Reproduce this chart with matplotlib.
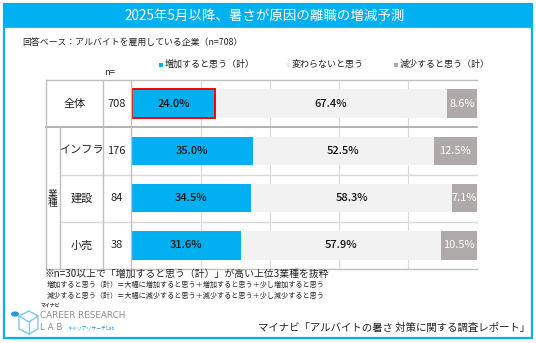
import matplotlib
matplotlib.use("Agg")
import matplotlib.pyplot as plt
from matplotlib.lines import Line2D
from matplotlib.patches import Rectangle, Circle, Polygon

plt.rcParams['font.family'] = ['Noto Sans CJK JP', 'DejaVu Sans']

categories = ['全体', 'インフラ', '建設', '小売']
n_values = [708, 176, 84, 38]
increase = [24.0, 35.0, 34.5, 31.6]
same = [67.4, 52.5, 58.3, 57.9]
decrease = [8.6, 12.5, 7.1, 10.5]
series_names = ['増加すると思う（計）', '変わらないと思う', '減少すると思う（計）']

W, H = 536, 343
BLUE = "#00B0F0"
LIGHT = "#F2F2F2"
GREY = "#AEAAAA"
LINE = "#BFBFBF"


def fx(x):
    return x / W


def fy(y):
    return 1 - y / H


fig = plt.figure(figsize=(W / 100, H / 100), dpi=100)


def hline(y, x0, x1, color=LINE, lw=1.0):
    fig.add_artist(Line2D([fx(x0), fx(x1)], [fy(y), fy(y)], color=color, lw=lw))


def vline(x, y0, y1, color=LINE, lw=1.0):
    fig.add_artist(Line2D([fx(x), fx(x)], [fy(y0), fy(y1)], color=color, lw=lw))


def text(x, y, s, **kw):
    fig.text(fx(x), fy(y), s, **kw)


# outer frame and title banner
fig.add_artist(Rectangle((fx(4), fy(338)), fx(528), (334) / H, fill=False,
                         ec=BLUE, lw=1.6))
fig.add_artist(Rectangle((fx(4), fy(27)), fx(528), 23 / H, fc=BLUE, ec=BLUE, lw=1.2))
text(265, 15.5, "2025年5月以降、暑さが原因の離職の増減予測", color="white",
     fontsize=9.7, ha="center", va="center")
text(22, 42, "回答ベース：アルバイトを雇用している企業（n=708）", fontsize=6.4,
     ha="left", va="center", color="#222222")

# legend
for lx, col, name in [(162, BLUE, series_names[0]), (289, LIGHT, series_names[1]),
                      (397, GREY, series_names[2])]:
    fig.add_artist(Rectangle((fx(lx - 3), fy(66.5)), 4 / W, 4 / H, fc=col, ec="none"))
    text(lx + 3, 64.5, name, fontsize=6.5, ha="left", va="center", color="#222222")
text(110, 72.5, "n=", fontsize=6.8, ha="center", va="center", color="#222222")

# bar area
top, bottom = 80, 269
x0, x1 = 132, 477
ax = fig.add_axes([fx(x0), fy(bottom), (x1 - x0) / W, (bottom - top) / H])
rows = list(range(len(categories)))
ax.barh(rows, increase, height=0.6, color=BLUE, edgecolor="none", zorder=2)
ax.barh(rows, same, left=increase, height=0.6, color=LIGHT, edgecolor="none", zorder=2)
lefts = [a + b for a, b in zip(increase, same)]
ax.barh(rows, decrease, left=lefts, height=0.6, color=GREY, edgecolor="none", zorder=2)
ax.barh(rows[0], increase[0], height=0.6, color="none", edgecolor="#FF0000", lw=1.4, zorder=3)
for i in rows:
    ax.text(increase[i] / 2, i, f"{increase[i]:.1f}%", ha="center", va="center",
            fontsize=8, color="#111111", zorder=4, fontweight="medium")
    ax.text(increase[i] + same[i] / 2, i, f"{same[i]:.1f}%", ha="center", va="center",
            fontsize=8, color="#111111", zorder=4, fontweight="medium")
    ax.text(lefts[i] + decrease[i] / 2, i, f"{decrease[i]:.1f}%", ha="center",
            va="center", fontsize=8, color="white", zorder=4, clip_on=False)
ax.set_xlim(0, 100)
ax.set_ylim(len(categories) - 0.5, -0.5)
ax.set_xticks([20, 40, 60, 80, 100])
ax.xaxis.grid(True, color="#D9D9D9", lw=0.8, zorder=0)
ax.tick_params(length=0, labelbottom=False, labelleft=False)
ax.set_yticks([])
for s in ax.spines.values():
    s.set_visible(False)
ax.patch.set_alpha(0)

# table lines
row_h = (bottom - top) / len(categories)
hline(top, 46, 477)
hline(bottom, 46, 477)
hline(top + row_h, 46, 477, color="#A6A6A6", lw=1.2)
for k in (2, 3):
    hline(top + k * row_h, 60, 477, color="#D9D9D9")
vline(46, top, bottom)
vline(60, top + row_h, bottom)
vline(103, top, bottom)
vline(130.5, top, bottom)

# row labels
for i, (c, n) in enumerate(zip(categories, n_values)):
    yc = top + (i + 0.5) * row_h
    cx = 74.5 if i == 0 else 81.5
    text(cx, yc, c, fontsize=8, ha="center", va="center", color="#222222")
    text(116.5, yc, str(n), fontsize=8, ha="center", va="center", color="#222222")
text(53, top + 2.5 * row_h - 4.5, "業", fontsize=7, ha="center", va="center", color="#222222")
text(53, top + 2.5 * row_h + 4.5, "種", fontsize=7, ha="center", va="center", color="#222222")

# notes
text(45, 274, "※n=30以上で「増加すると思う（計）」が高い上位3業種を抜粋", fontsize=7.1,
     ha="left", va="center", color="#222222")
text(47, 285, "増加すると思う（計）＝大幅に増加すると思う＋増加すると思う＋少し増加すると思う",
     fontsize=5.1, ha="left", va="center", color="#222222")
text(47, 296, "減少すると思う（計）＝大幅に減少すると思う＋減少すると思う＋少し減少すると思う",
     fontsize=5.1, ha="left", va="center", color="#222222")

# logo
cube = Polygon([(fx(19), fy(316)), (fx(29), fy(311)), (fx(38), fy(316)), (fx(38), fy(329)),
                (fx(29), fy(334)), (fx(19), fy(329))], closed=True, fill=False,
               ec="#7FC8E8", lw=1.0)
fig.add_artist(cube)
fig.add_artist(Line2D([fx(19), fx(29), fx(38)], [fy(316), fy(322), fy(316)],
                      color="#7FC8E8", lw=1.0))
fig.add_artist(Line2D([fx(29), fx(29)], [fy(322), fy(334)], color="#7FC8E8", lw=1.0))
fig.add_artist(Circle((fx(15), fy(314)), 4 / W, fc="#1B9BD7", ec="none",
                      transform=fig.transFigure))
text(41, 305, "マイナビ", fontsize=3.5, ha="left", va="center", color="#333333",
     fontweight="bold")
text(40, 316, "CAREER RESEARCH", fontsize=6.3, ha="left", va="center", color="#8C8C8C",
     family="DejaVu Sans")
text(40, 328, "L A B", fontsize=6.3, ha="left", va="center", color="#8C8C8C",
     family="DejaVu Sans")
text(67, 328, "キャリアリサーチLab", fontsize=3.5, ha="left", va="center", color="#1B9BD7")

text(530, 328, "マイナビ「アルバイトの暑さ 対策に関する調査レポート」", fontsize=7.5,
     ha="right", va="center", color="#222222")

fig.savefig("out.png", dpi=100)
